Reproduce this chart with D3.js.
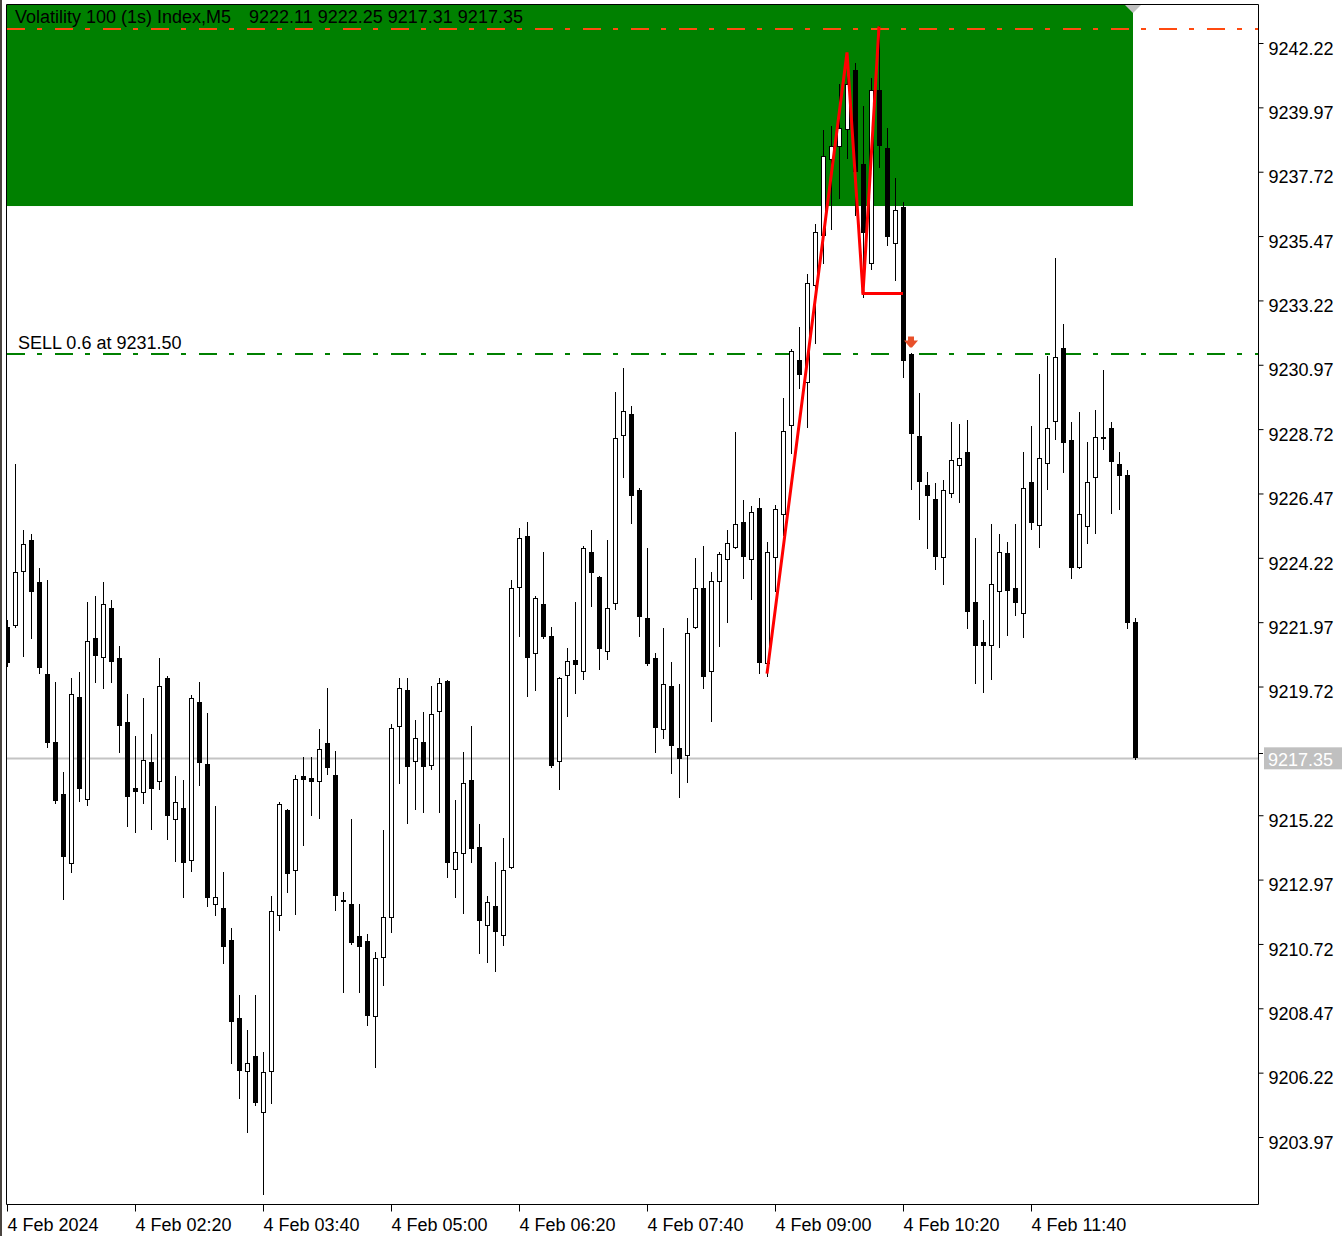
<!DOCTYPE html>
<html><head><meta charset="utf-8">
<script src="https://cdn.jsdelivr.net/npm/d3@7"></script>
<style>
html,body{margin:0;padding:0;background:#fff;overflow:hidden}
svg{display:block}
text{font-family:"Liberation Sans",Arial,sans-serif;}
</style>
</head><body>
<svg id="c" width="1344" height="1236"></svg>
<script>
// ---------- DATA ----------
const firstBar = "01:00";
const lastBar = "12:45";
const barMinutes = 5;
const opens = [9221.94,9222.01,9223.90,9224.98,9223.51,9220.30,9217.92,9216.10,9213.69,9219.49,
9215.93,9221.56,9220.89,9222.60,9220.86,9218.62,9216.31,9216.17,9217.22,9216.56,
9220.16,9215.23,9215.61,9213.79,9219.32,9217.15,9212.26,9212.12,9211.00,9208.27,
9206.42,9206.94,9204.98,9206.42,9211.87,9215.54,9213.44,9216.73,9216.66,9216.56,
9217.88,9216.77,9212.39,9212.26,9211.14,9210.96,9208.34,9210.40,9211.80,9218.48,
9219.74,9217.26,9217.92,9217.12,9219.00,9220.05,9213.48,9214.04,9216.59,9214.25,
9211.52,9212.19,9211.17,9213.55,9223.34,9225.12,9221.03,9222.74,9221.63,9217.26,
9220.26,9220.79,9220.40,9224.56,9223.70,9221.10,9222.78,9228.65,9229.39,9226.73,
9222.26,9220.86,9218.37,9219.88,9217.71,9217.46,9221.94,9223.30,9220.40,9223.55,
9224.32,9224.74,9225.61,9224.32,9226.10,9220.68,9224.39,9225.89,9229.00,9231.28,
9230.51,9233.90,9235.65,9238.30,9238.76,9239.35,9241.42,9238.13,9234.67,9240.70,
9238.69,9235.37,9236.63,9231.48,9228.62,9226.90,9226.42,9224.39,9226.63,9227.60,
9228.06,9222.81,9221.42,9221.31,9223.20,9224.54,9223.30,9222.43,9227.01,9225.51,
9227.67,9229.14,9231.70,9228.48,9224.04,9225.47,9227.19,9228.60,9228.90,9227.64,
9227.24,9222.11];
const highs = [9222.19,9227.64,9225.33,9225.19,9224.00,9223.58,9220.02,9216.87,9220.16,9220.37,
9222.81,9223.02,9223.51,9222.88,9221.28,9219.60,9218.13,9219.46,9218.20,9220.86,
9220.23,9216.73,9216.59,9219.56,9220.02,9218.93,9215.68,9213.37,9211.42,9209.07,
9207.85,9209.07,9207.08,9212.53,9215.82,9215.58,9216.77,9217.39,9217.39,9218.37,
9219.81,9217.60,9212.67,9215.23,9212.26,9211.21,9210.58,9214.84,9218.55,9220.16,
9220.16,9218.69,9218.97,9219.88,9220.16,9220.09,9215.89,9217.57,9218.48,9215.05,
9212.53,9213.72,9214.56,9223.58,9225.40,9225.61,9223.02,9224.56,9221.94,9220.18,
9221.21,9222.81,9224.77,9225.33,9223.72,9224.98,9230.16,9231.00,9229.67,9226.80,
9224.70,9221.03,9221.91,9220.72,9219.95,9222.26,9224.35,9224.77,9223.86,9224.56,
9225.33,9228.76,9226.38,9226.17,9226.45,9224.91,9226.21,9229.95,9231.66,9232.43,
9234.28,9236.03,9239.32,9239.46,9240.93,9242.00,9241.66,9240.16,9241.14,9242.94,
9239.39,9237.64,9236.80,9231.52,9230.12,9227.36,9226.98,9227.08,9229.11,9229.04,
9229.18,9225.05,9222.19,9225.54,9225.19,9224.91,9225.54,9228.06,9228.97,9230.79,
9231.42,9234.84,9232.53,9229.11,9229.46,9228.41,9229.53,9230.93,9229.11,9228.06,
9227.43,9222.25];
const lows = [9220.58,9221.95,9220.93,9221.56,9220.33,9217.74,9215.80,9212.43,9213.37,9215.86,
9215.72,9220.02,9219.81,9220.02,9217.57,9214.98,9214.77,9215.79,9214.88,9216.28,
9214.53,9213.76,9212.50,9213.41,9216.42,9212.19,9211.87,9210.19,9206.70,9205.47,
9204.28,9205.23,9202.12,9205.30,9211.35,9212.67,9211.91,9214.32,9215.37,9215.26,
9216.80,9212.05,9209.18,9210.85,9209.18,9208.02,9206.56,9209.42,9211.28,9216.49,
9215.09,9215.58,9215.47,9216.98,9215.47,9213.20,9212.50,9211.94,9213.72,9210.54,
9210.23,9209.91,9210.82,9213.50,9221.63,9219.53,9219.74,9221.55,9217.04,9216.28,
9218.83,9219.63,9220.12,9222.67,9220.47,9220.82,9222.57,9227.19,9225.58,9221.63,
9220.61,9217.57,9218.06,9216.84,9216.00,9216.52,9221.90,9219.81,9218.65,9221.28,
9222.12,9224.70,9223.65,9222.92,9220.33,9220.23,9223.20,9225.16,9228.02,9230.30,
9228.93,9231.87,9234.67,9235.86,9236.94,9238.34,9236.35,9233.48,9234.46,9238.02,
9235.30,9234.07,9230.68,9226.77,9225.72,9224.70,9223.97,9223.44,9226.49,9226.31,
9221.91,9219.98,9219.67,9220.12,9221.24,9221.66,9222.36,9221.59,9225.37,9224.74,
9226.77,9228.51,9227.36,9223.65,9224.02,9224.88,9225.23,9228.16,9225.93,9226.07,
9221.91,9217.31];
const closes = [9220.68,9223.86,9224.84,9223.16,9220.51,9217.88,9215.86,9213.90,9219.60,9216.28,
9221.45,9220.93,9222.74,9220.72,9218.48,9216.00,9216.17,9217.29,9216.28,9219.88,
9215.33,9215.82,9213.69,9219.46,9217.19,9212.46,9212.50,9210.75,9208.13,9206.42,
9206.70,9205.30,9206.38,9212.01,9215.75,9213.30,9216.63,9216.59,9216.52,9217.67,
9217.01,9212.53,9212.33,9210.89,9210.75,9208.34,9210.37,9211.80,9218.41,9219.81,
9217.05,9218.06,9217.05,9218.90,9219.98,9213.69,9214.07,9216.49,9214.18,9211.66,
9212.33,9211.28,9213.44,9223.30,9225.05,9220.86,9222.95,9221.59,9217.08,9220.16,
9220.75,9220.61,9224.70,9223.83,9221.17,9222.60,9228.55,9229.49,9226.52,9222.29,
9220.65,9218.41,9219.95,9217.78,9217.33,9221.73,9223.30,9220.19,9223.55,9224.49,
9224.88,9225.54,9224.39,9225.96,9220.68,9224.56,9226.07,9228.79,9231.59,9230.75,
9233.97,9235.75,9238.41,9238.76,9239.39,9240.93,9237.85,9235.72,9240.72,9238.76,
9235.58,9236.52,9231.24,9228.69,9227.01,9226.52,9224.39,9226.73,9227.78,9227.85,
9222.46,9221.28,9221.28,9223.44,9224.56,9223.20,9222.78,9226.80,9225.58,9227.85,
9228.90,9231.38,9228.37,9224.00,9225.89,9227.01,9228.58,9228.51,9227.71,9227.22,
9222.08,9217.35];

const priceTicks = [9242.22,9239.97,9237.72,9235.47,9233.22,9230.97,9228.72,9226.47,9224.22,
9221.97,9219.72,9215.22,9212.97,9210.72,9208.47,9206.22,9203.97];
const timeTicks = ["01:00","02:20","03:40","05:00","06:20","07:40","09:00","10:20","11:40"];
const timeTickLabels = ["4 Feb 2024","4 Feb 02:20","4 Feb 03:40","4 Feb 05:00","4 Feb 06:20",
"4 Feb 07:40","4 Feb 09:00","4 Feb 10:20","4 Feb 11:40"];

const zigTimes = ["08:55","09:45","09:55","10:20"];
const zigPrices = [9220.31,9242.03,9233.60,9233.60];
const zig2Times = ["09:55","10:05"];
const zig2Prices = [9233.60,9242.94];

const zoneTop = 9245.00, zoneBottom = 9236.66;
const stopPrice = 9242.85;
const sellPrice = 9231.50, sellTime = "10:25";
const sellLabel = "SELL 0.6 at 9231.50";
const lastPrice = 9217.35;
const symbolLabel = "Volatility 100 (1s) Index,M5";
const headerValues = "9222.11 9222.25 9217.31 9217.35";

// ---------- CHART ----------
const W = 1344, H = 1236;
const L = 7, R = 1258, T = 4, B = 1204;
const parseT = s => new Date(`2024-02-04T${s}:00`);
const t0 = parseT(firstBar);
const times = opens.map((_, i) => new Date(t0.getTime() + i * barMinutes * 60000));

const x = d3.scaleTime().domain([parseT(firstBar), parseT(lastBar)]).range([7, 1135]);
const y = d3.scaleLinear().domain([9203.97, 9242.22]).range([1141, 47]);

const svg = d3.select("#c");
svg.append("rect").attr("width", W).attr("height", H).attr("fill", "#fff");
svg.append("rect").attr("x", 0).attr("y", 0).attr("width", 2).attr("height", H).attr("fill", "#4a4540");

const defs = svg.append("defs");
defs.append("clipPath").attr("id", "plot").append("rect")
  .attr("x", L).attr("y", T).attr("width", R - L).attr("height", B - T);

const plot = svg.append("g").attr("clip-path", "url(#plot)");

// green zone
const zx1 = x(times[times.length - 1]) - 2;
plot.append("rect")
  .attr("x", L).attr("y", y(zoneTop))
  .attr("width", zx1 - L).attr("height", y(zoneBottom) - y(zoneTop))
  .attr("fill", "#008000");

// current price line
plot.append("line")
  .attr("x1", L).attr("x2", R)
  .attr("y1", Math.round(y(lastPrice)) + 0.5).attr("y2", Math.round(y(lastPrice)) + 0.5)
  .attr("stroke", "#c4c4c4").attr("stroke-width", 2);

// dashed lines
plot.append("line")
  .attr("x1", L).attr("x2", R)
  .attr("y1", Math.round(y(stopPrice))).attr("y2", Math.round(y(stopPrice)))
  .attr("stroke", "#ff4a10").attr("stroke-width", 2).attr("stroke-dasharray", "18,12,5,13");
plot.append("line")
  .attr("x1", L).attr("x2", R)
  .attr("y1", Math.round(y(sellPrice))).attr("y2", Math.round(y(sellPrice)))
  .attr("stroke", "#008000").attr("stroke-width", 2).attr("stroke-dasharray", "18,12,5,13");

// candles
const idx = d3.range(opens.length);
const cx = i => Math.round(x(times[i]));
const cg = plot.append("g");
cg.selectAll("line.wick").data(idx).join("line").attr("class", "wick")
  .attr("x1", i => cx(i) + 0.5).attr("x2", i => cx(i) + 0.5)
  .attr("y1", i => Math.round(y(highs[i]))).attr("y2", i => Math.round(y(lows[i])) + 1)
  .attr("stroke", "#000").attr("stroke-width", 1);
cg.selectAll("rect.body").data(idx).join("rect").attr("class", "body")
  .each(function (i) {
    const top = Math.round(y(Math.max(opens[i], closes[i])));
    const bot = Math.round(y(Math.min(opens[i], closes[i])));
    const sel = d3.select(this);
    if (closes[i] > opens[i]) {
      sel.attr("x", cx(i) - 1.5).attr("width", 4)
        .attr("y", top + 0.5).attr("height", Math.max(bot - top, 1))
        .attr("fill", "#fff").attr("stroke", "#000").attr("stroke-width", 1);
    } else {
      sel.attr("x", cx(i) - 2).attr("width", 5)
        .attr("y", top).attr("height", Math.max(bot - top, 2))
        .attr("fill", "#000");
    }
  });

// zigzag lines
const lineGen = d3.line().x(d => x(parseT(d[0]))).y(d => y(d[1]));
plot.append("path").attr("d", lineGen(d3.zip(zigTimes, zigPrices)))
  .attr("fill", "none").attr("stroke", "#ff0000").attr("stroke-width", 3);
plot.append("path").attr("d", lineGen(d3.zip(zig2Times, zig2Prices)))
  .attr("fill", "none").attr("stroke", "#ff0000").attr("stroke-width", 3);

// sell arrow
const ax = x(parseT(sellTime)), ay = y(sellPrice) - 11;
plot.append("path")
  .attr("d", `M${ax - 7},${ay - 2} L${ax + 7},${ay - 2} L${ax + 1},${ay + 5} L${ax - 1},${ay + 5} Z M${ax - 3},${ay - 6} h6 v4 h-6 Z`)
  .attr("fill", "#e8502a");

// frame
svg.append("path")
  .attr("d", `M${L - 0.5},${T + 0.5} H${R + 0.5} V${B + 0.5} H${L - 0.5} Z`)
  .attr("fill", "none").attr("stroke", "#000").attr("stroke-width", 1);

// shift triangle
svg.append("path")
  .attr("d", `M${zx1 - 8},${T + 1} L${zx1 + 8},${T + 1} L${zx1},${T + 9} Z`)
  .attr("fill", "#c0c0c0");

// price axis
const yAxis = d3.axisRight(y).tickValues(priceTicks).tickFormat(d3.format(".2f")).tickSize(5).tickPadding(5);
const ya = svg.append("g").attr("transform", `translate(${R + 0.5},0)`).call(yAxis);
ya.select(".domain").remove();
ya.attr("font-family", null).attr("font-size", null);
ya.selectAll(".tick line").attr("y1", -4).attr("y2", -4).attr("stroke", "#000");
ya.selectAll(".tick text").attr("x", 10).attr("dy", "0.4em")
  .style("font-size", "18px").attr("fill", "#000");

// current price label
const lpY = y(lastPrice);
svg.append("line").attr("x1", R).attr("x2", R + 5).attr("y1", Math.round(lpY) - 4.5).attr("y2", Math.round(lpY) - 4.5)
  .attr("stroke", "#000");
svg.append("rect").attr("x", R + 6).attr("y", lpY - 11).attr("width", 78).attr("height", 22).attr("fill", "#c0c0c0");
svg.append("text").attr("x", R + 10).attr("y", lpY).attr("dy", "0.4em")
  .style("font-size", "18px").attr("fill", "#fff").text(d3.format(".2f")(lastPrice));

// time axis
const xAxis = d3.axisBottom(x).tickValues(timeTicks.map(parseT))
  .tickFormat((d, i) => timeTickLabels[i]).tickSize(7);
const xa = svg.append("g").attr("transform", `translate(0,${B + 0.5})`).call(xAxis);
xa.select(".domain").remove();
xa.attr("font-family", null).attr("font-size", null);
xa.selectAll(".tick line").attr("stroke", "#000");
xa.selectAll(".tick text").attr("text-anchor", "start").attr("x", 0).attr("y", 26).attr("dy", null)
  .style("font-size", "18px").attr("fill", "#000");

// header
svg.append("text").attr("x", 15).attr("y", 23).style("font-size", "18px").attr("fill", "#000").text(symbolLabel);
svg.append("text").attr("x", 249).attr("y", 23).style("font-size", "18px").attr("fill", "#000").attr("xml:space", "preserve").text(headerValues);

// sell label
svg.append("text").attr("x", 18).attr("y", y(sellPrice) - 5).style("font-size", "18px").attr("fill", "#000").text(sellLabel);
</script>
</body></html>
